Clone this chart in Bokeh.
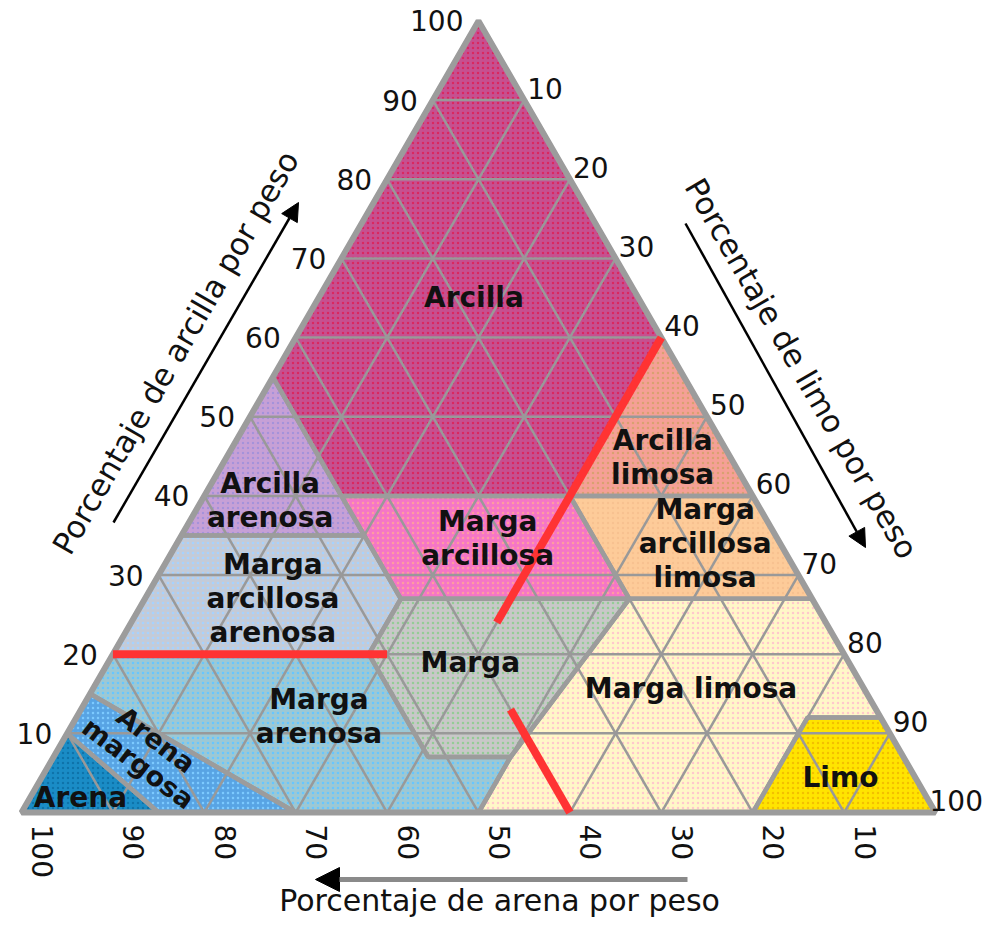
import math
from bokeh.plotting import figure
from bokeh.models import Arrow, NormalHead, ColumnDataSource, Range1d
from bokeh.core.properties import value
from bokeh.embed import file_html
from bokeh.resources import INLINE

# ---------------- data ----------------
tick_values = [10, 20, 30, 40, 50, 60, 70, 80, 90, 100]
grid_values = [10, 20, 30, 40, 50, 60, 70, 80, 90]

class_names = ["Arcilla", "Arcilla arenosa", "Arcilla limosa", "Marga arcillosa",
               "Marga arcillosa limosa", "Marga arcillosa arenosa", "Marga",
               "Marga limosa", "Limo", "Marga arenosa", "Arena margosa", "Arena"]
# vertices as (sand, silt, clay) percentages
class_vertices = [
    [(0, 0, 100), (0, 40, 60), (20, 40, 40), (45, 15, 40), (45, 0, 55)],
    [(45, 0, 55), (45, 15, 40), (45, 20, 35), (65, 0, 35)],
    [(0, 40, 60), (0, 60, 40), (20, 40, 40)],
    [(20, 40, 40), (45, 15, 40), (45, 28, 27), (20, 53, 27)],
    [(0, 60, 40), (20, 40, 40), (20, 53, 27), (0, 73, 27)],
    [(65, 0, 35), (45, 20, 35), (45, 28, 27), (52, 28, 20), (80, 0, 20)],
    [(45, 28, 27), (20, 53, 27), (43, 50, 7), (52, 41, 7), (52, 28, 20)],
    [(0, 73, 27), (20, 53, 27), (43, 50, 7), (50, 50, 0), (20, 80, 0), (8, 80, 12), (0, 88, 12)],
    [(0, 88, 12), (8, 80, 12), (20, 80, 0), (0, 100, 0)],
    [(80, 0, 20), (52, 28, 20), (52, 41, 7), (43, 50, 7), (50, 50, 0), (70, 30, 0), (85, 0, 15)],
    [(85, 0, 15), (70, 30, 0), (85, 15, 0), (90, 0, 10)],
    [(90, 0, 10), (85, 15, 0), (100, 0, 0)],
]
class_colors = ["#c65090", "#c6a0d6", "#f5a096", "#f576c6", "#fdcb99", "#c3cbd8",
                "#c8c8c8", "#fff7c8", "#ffe400", "#9cc8d4", "#58a4e4", "#1a8cc6"]
class_dots = ["#d9285f", "#a592da", "#d9a070", "#ff9ca0", "#f7c190", "#a6d2ff",
              "#94cc96", "#ffc8cc", "#f2c000", "#66c6ff", "#7ccaff", "#0e72aa"]

# label text with anchor (silt, clay)
label_texts = ["Arcilla", "Arcilla\narenosa", "Arcilla\nlimosa", "Marga\narcillosa",
               "Marga\narcillosa\nlimosa", "Marga\narcillosa\narenosa", "Marga",
               "Marga limosa", "Marga\narenosa", "Limo", "Arena"]
label_silt = [17.0, 7.5, 47.7, 33.7, 57.8, 14.0, 39.6, 65.4, 26.5, 87.4, 5.5]
label_clay = [65.0, 39.4, 44.9, 34.6, 34.0, 27.0, 19.0, 15.7, 12.1, 4.4, 1.9]
slanted_text = ["Arena\nmargosa"]
slanted_silt = [9.9]
slanted_clay = [7.7]

# example reading lines (sand, silt, clay) start -> end
red_starts = [(80, 0, 20), (0, 40, 60), (40, 47, 13)]
red_ends = [(50, 30, 20), (36, 40, 24), (40, 60, 0)]

# ---------------- geometry ----------------
R3 = math.sqrt(3) / 2
S = 9.14              # pixels per percent
VX, VY = 21.0, 812.0  # picture position of the 100 % sand corner
W, H = 987, 921


def tern(sand, silt, clay):
    return silt + clay / 2.0, clay * R3


def px(X, Y):
    return (X - VX) / S, (VY - Y) / S


FONT = value("DejaVu Sans")

p = figure(width=W, height=H,
           x_range=Range1d((0 - VX) / S, (W - VX) / S),
           y_range=Range1d((VY - H) / S, (VY - 0) / S),
           output_backend="svg", toolbar_location=None, min_border=0,
           x_axis_location=None, y_axis_location=None,
           background_fill_color="white", border_fill_color="white",
           outline_line_color=None)
p.grid.visible = False

# region fills
xs, ys = [], []
for verts in class_vertices:
    pts = [tern(*v) for v in verts]
    xs.append([q[0] for q in pts])
    ys.append([q[1] for q in pts])
src = ColumnDataSource(dict(xs=xs, ys=ys, fill=class_colors, dot=class_dots, name=class_names))
p.patches("xs", "ys", source=src, fill_color="fill", line_color=None,
          hatch_pattern="dot", hatch_color="dot", hatch_scale=5, hatch_weight=1.5)

# grid
gx, gy = [], []
for k in grid_values:
    for a, b in [((100 - k, 0, k), (0, 100 - k, k)),
                 ((100 - k, k, 0), (0, k, 100 - k)),
                 ((k, 100 - k, 0), (k, 0, 100 - k))]:
        pa, pb = tern(*a), tern(*b)
        gx.append([pa[0], pb[0]])
        gy.append([pa[1], pb[1]])
p.multi_line(gx, gy, line_color="#999999", line_width=2.5)

# region borders
p.patches("xs", "ys", source=src, fill_color=None, line_color="#9c9c9c", line_width=4.5)

# outer triangle
corners = [tern(100, 0, 0), tern(0, 100, 0), tern(0, 0, 100)]
p.patch([c[0] for c in corners], [c[1] for c in corners], fill_color=None,
        line_color="#9c9c9c", line_width=6)

# red reading lines
rx, ry = [], []
for a, b in zip(red_starts, red_ends):
    pa, pb = tern(*a), tern(*b)
    rx.append([pa[0], pb[0]])
    ry.append([pa[1], pb[1]])
p.multi_line(rx, ry, line_color="#ff3333", line_width=8)

# region labels
lx = [s + c / 2 for s, c in zip(label_silt, label_clay)]
ly = [c * R3 for c in label_clay]
p.text(lx, ly, text=label_texts, text_font=FONT, text_font_size="28px",
       text_font_style="bold", text_align="center", text_baseline="middle",
       text_line_height=1.03, text_color="#111111")
sx = [s + c / 2 for s, c in zip(slanted_silt, slanted_clay)]
sy = [c * R3 for c in slanted_clay]
p.text(sx, sy, text=slanted_text, angle=-math.radians(37), text_font=FONT,
       text_font_size="27px", text_font_style="bold", text_align="center",
       text_baseline="middle", text_line_height=0.95, text_color="#111111")

# tick labels
tick_str = [str(t) for t in tick_values]
# clay (left side)
cx = [tern(100 - t, 0, t)[0] - 15 / S for t in tick_values]
cy = [tern(100 - t, 0, t)[1] for t in tick_values]
p.text(cx, cy, text=tick_str, text_font=FONT, text_font_size="28px",
       text_align="right", text_baseline="middle", text_color="#111111")
# silt (right side) - kept inside the picture's right edge
right_limit = (W - 58 - VX) / S
mx = [min(tern(0, t, 100 - t)[0] + 3 / S, right_limit) for t in tick_values]
my = [tern(0, t, 100 - t)[1] + 12 / S for t in tick_values]
p.text(mx, my, text=tick_str, text_font=FONT, text_font_size="28px",
       text_align="left", text_baseline="middle", text_color="#111111")
# sand (bottom)
ax = [tern(t, 100 - t, 0)[0] + 21 / S for t in tick_values]
ay = [tern(t, 100 - t, 0)[1] - 12 / S for t in tick_values]
p.text(ax, ay, text=tick_str, angle=-math.pi / 2, text_font=FONT, text_font_size="28px",
       text_align="left", text_baseline="middle", text_color="#111111")

# axis titles
t1 = px(175, 352)
t2 = px(801, 368)
t3 = px(499, 900)
p.text([t1[0]], [t1[1]], text=["Porcentaje de arcilla por peso"], angle=math.pi / 3,
       text_font=FONT, text_font_size="31px", text_align="center",
       text_baseline="middle", text_color="#111111")
p.text([t2[0]], [t2[1]], text=["Porcentaje de limo por peso"], angle=-math.pi / 3,
       text_font=FONT, text_font_size="31px", text_align="center",
       text_baseline="middle", text_color="#111111")
p.text([t3[0]], [t3[1]], text=["Porcentaje de arena por peso"],
       text_font=FONT, text_font_size="30px", text_align="center",
       text_baseline="middle", text_color="#111111")

# arrows
a1s, a1e = px(113, 522), px(298, 202)
a2s, a2e = px(685, 223), px(865, 547)
a3s, a3e = px(687, 879), px(315, 879)
p.add_layout(Arrow(end=NormalHead(size=18, fill_color="black", line_color="black"),
                   x_start=a1s[0], y_start=a1s[1], x_end=a1e[0], y_end=a1e[1],
                   line_color="black", line_width=2.5))
p.add_layout(Arrow(end=NormalHead(size=18, fill_color="black", line_color="black"),
                   x_start=a2s[0], y_start=a2s[1], x_end=a2e[0], y_end=a2e[1],
                   line_color="black", line_width=2.5))
p.add_layout(Arrow(end=NormalHead(size=24, fill_color="black", line_color="black"),
                   x_start=a3s[0], y_start=a3s[1], x_end=a3e[0], y_end=a3e[1],
                   line_color="#8a8a8a", line_width=5))

open("out.html", "w").write(file_html(p, INLINE))
